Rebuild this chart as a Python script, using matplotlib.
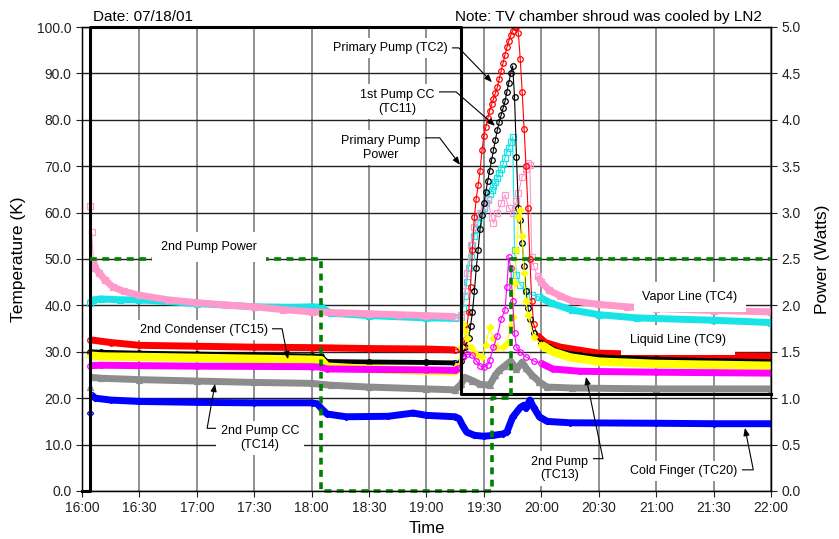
import matplotlib
matplotlib.use("Agg")
import matplotlib.pyplot as plt
import matplotlib.ticker as mticker
import numpy as np

plt.rcParams['font.family'] = ['Liberation Sans', 'DejaVu Sans']


def hm(s):
    # "HH:MM" -> decimal hours
    h, m = s.split(":")
    return int(h) + float(m) / 60.0


# ---- temperatures (K) ----
# Vapor Line (TC4)
t_tc4 = ["16:04", "16:05", "16:06", "16:07", "16:09", "16:12", "16:16", "16:22", "16:30", "16:45",
         "17:00", "17:15", "17:30", "17:45", "18:00", "18:15", "18:30", "18:45", "19:00", "19:15",
         "19:18", "19:20", "19:21", "19:23", "19:25", "19:28", "19:30", "19:32", "19:34", "19:35",
         "19:37", "19:39", "19:41", "19:43", "19:45", "19:47", "19:48", "19:50", "19:52", "19:53",
         "19:54", "19:55", "19:56", "19:58", "20:00", "20:04", "20:10", "20:16", "20:30", "20:45",
         "21:00", "21:30", "22:00"]
v_tc4 = [61.5, 55.8, 49.5, 48.0, 47.0, 45.5, 44.0, 43.0, 42.2, 41.2,
         40.6, 40.1, 39.7, 39.1, 38.6, 38.4, 38.2, 38.0, 37.8, 37.6,
         38.0, 43.0, 47.0, 53.0, 57.0, 60.0, 61.5, 62.7, 59.0, 57.7,
         60.0, 62.0, 63.8, 61.0, 60.0, 62.5, 64.2, 67.7, 69.5, 70.7,
         70.3, 50.4, 48.5, 46.3, 45.0, 43.3, 42.0, 41.0, 40.2, 39.7,
         39.3, 38.9, 38.6]

# Liquid Line (TC9)
t_tc9 = ["16:04", "16:06", "16:10", "16:20", "16:30", "17:00", "17:30", "17:50", "18:00", "18:05",
         "18:10", "18:30", "19:00", "19:15", "19:18", "19:19", "19:20", "19:21", "19:22", "19:23",
         "19:24", "19:25", "19:26", "19:27", "19:28", "19:29", "19:30", "19:31", "19:32", "19:33",
         "19:34", "19:35", "19:36", "19:37", "19:38", "19:39", "19:40", "19:41", "19:42", "19:43",
         "19:44", "19:45", "19:46", "19:47", "19:49", "19:52", "19:55", "19:59", "20:05", "20:16",
         "20:30", "20:50", "21:30", "22:00"]
v_tc9 = [40.5, 41.2, 41.4, 41.2, 41.2, 40.4, 39.7, 39.6, 39.7, 39.6,
         38.3, 37.8, 37.3, 37.2, 37.5, 39.5, 42.0, 45.0, 48.0, 50.5,
         53.0, 55.0, 56.5, 58.0, 59.0, 60.0, 61.0, 62.0, 63.0, 64.0,
         64.8, 65.7, 66.5, 67.5, 68.5, 69.5, 70.5, 71.8, 73.0, 74.0,
         75.2, 76.3, 52.0, 46.5, 44.5, 43.0, 42.3, 41.8, 40.5, 39.0,
         38.0, 37.3, 36.8, 36.3]

# Primary Pump (TC2)
t_tc2 = ["16:04", "16:15", "16:30", "17:00", "17:30", "18:00", "18:30", "19:00", "19:15", "19:18",
         "19:19", "19:20", "19:21", "19:22", "19:23", "19:24", "19:25", "19:26", "19:27", "19:28",
         "19:29", "19:30", "19:31", "19:32", "19:33", "19:34", "19:35", "19:36", "19:37", "19:38",
         "19:39", "19:40", "19:41", "19:42", "19:43", "19:44", "19:45", "19:46", "19:47", "19:48",
         "19:49", "19:50", "19:51", "19:52", "19:53", "19:54", "19:55", "19:56", "19:58", "20:02",
         "20:10", "20:30", "21:00", "21:30", "22:00"]
v_tc2 = [32.6, 32.0, 31.4, 31.2, 31.0, 30.9, 30.7, 30.6, 30.4, 30.6,
         31.0, 32.5, 35.0, 38.5, 44.0, 52.0, 59.0, 63.0, 66.0, 69.0,
         73.5, 76.5, 78.5, 80.3, 82.0, 83.3, 84.5, 85.8, 87.0, 88.8,
         90.5, 92.2, 94.0, 95.6, 97.0, 98.2, 99.2, 100.0, 100.0, 98.6,
         93.0, 86.0, 78.0, 70.0, 61.0, 50.0, 41.0, 36.0, 33.5, 32.0,
         31.0, 29.7, 29.4, 29.2, 29.0]

# 1st Pump CC (TC11)
t_tc11 = ["16:04", "16:10", "16:30", "17:00", "17:30", "18:00", "18:05", "18:08", "18:30", "19:00",
          "19:15", "19:18", "19:19", "19:20", "19:22", "19:23", "19:24", "19:25", "19:26", "19:27",
          "19:28", "19:29", "19:30", "19:31", "19:32", "19:33", "19:34", "19:35", "19:36", "19:37",
          "19:38", "19:39", "19:40", "19:41", "19:42", "19:43", "19:44", "19:45", "19:46", "19:47",
          "19:48", "19:49", "19:50", "19:51", "19:52", "19:53", "19:54", "19:56", "20:00", "20:04",
          "20:10", "20:20", "20:30", "21:00", "21:30", "22:00"]
v_tc11 = [30.0, 29.9, 29.7, 29.5, 29.3, 29.1, 29.0, 27.9, 27.8, 27.7,
          27.6, 28.0, 29.0, 31.0, 33.0, 35.5, 38.5, 43.0, 48.0, 52.0,
          56.5, 59.5, 62.0, 64.5, 66.8, 69.0, 71.3, 73.5, 75.7, 77.8,
          79.5, 81.0, 82.5, 84.0, 86.0, 88.0, 90.0, 91.6, 85.0, 72.0,
          61.0, 58.4, 53.4, 48.5, 43.0, 39.5, 37.0, 34.0, 32.0, 31.0,
          30.0, 29.3, 28.9, 28.4, 28.1, 27.9]

# 2nd Condenser (TC15)
t_tc15 = ["16:04", "16:10", "16:30", "17:00", "17:30", "18:00", "18:05", "18:08", "18:30", "19:00",
          "19:15", "19:17", "19:18", "19:19", "19:20", "19:21", "19:23", "19:25", "19:27", "19:29",
          "19:31", "19:33", "19:35", "19:37", "19:40", "19:42", "19:44", "19:45", "19:46", "19:47",
          "19:48", "19:49", "19:50", "19:51", "19:52", "19:53", "19:56", "20:00", "20:06", "20:15",
          "20:30", "21:00", "21:30", "22:00"]
v_tc15 = [29.2, 29.0, 28.9, 28.7, 28.5, 28.3, 28.2, 26.8, 26.3, 25.9,
          25.8, 27.0, 31.0, 36.0, 34.5, 33.0, 31.0, 30.0, 29.0, 28.9,
          31.5, 35.3, 33.0, 31.0, 31.0, 32.0, 35.5, 37.5, 44.8, 52.0,
          59.0, 60.6, 55.0, 47.0, 41.0, 38.0, 33.2, 31.5, 30.0, 28.8,
          27.9, 27.4, 27.2, 27.0]

# 2nd Pump (TC13)
t_tc13 = ["16:04", "16:10", "17:00", "18:00", "18:05", "18:08", "18:30", "19:00", "19:15", "19:17",
          "19:19", "19:21", "19:24", "19:26", "19:28", "19:30", "19:32", "19:33", "19:35", "19:37",
          "19:39", "19:41", "19:42", "19:43", "19:44", "19:45", "19:46", "19:47", "19:49", "19:52",
          "19:56", "20:00", "20:06", "20:20", "21:00", "22:00"]
v_tc13 = [27.0, 27.1, 26.9, 26.8, 26.7, 26.3, 26.2, 26.1, 26.0, 26.5,
          28.9, 29.5, 29.3, 28.0, 27.0, 26.7, 27.2, 28.2, 31.0, 33.5,
          37.0, 39.0, 44.0, 50.5, 48.0, 41.0, 34.0, 31.0, 30.0, 28.9,
          28.0, 27.5, 26.3, 25.8, 25.6, 25.4]

# 2nd Pump CC (TC14)
t_tc14 = ["16:04", "16:05", "16:10", "16:30", "17:00", "17:30", "18:00", "18:10", "18:30", "19:00",
          "19:15", "19:18", "19:20", "19:24", "19:28", "19:33", "19:36", "19:38", "19:41", "19:44",
          "19:47", "19:50", "19:52", "19:55", "19:59", "20:03", "20:16", "21:00", "22:00"]
v_tc14 = [22.4, 24.5, 24.3, 24.0, 23.7, 23.4, 23.2, 22.8, 22.4, 22.0,
          21.8, 23.0, 24.5, 23.8, 23.0, 22.8, 25.0, 26.0, 27.0, 28.0,
          26.2, 27.8, 26.5, 25.0, 23.5, 22.4, 22.2, 22.0, 22.0]

# Cold Finger (TC20)
t_tc20 = ["16:04", "16:05", "16:07", "16:15", "16:30", "17:00", "17:30", "18:00", "18:03", "18:05",
          "18:08", "18:18", "18:40", "18:53", "19:00", "19:15", "19:17", "19:19", "19:21", "19:25",
          "19:30", "19:35", "19:40", "19:42", "19:45", "19:49", "19:51", "19:52", "19:54", "19:56",
          "19:59", "20:03", "20:15", "21:00", "21:30", "22:00"]
v_tc20 = [16.8, 20.7, 20.0, 19.6, 19.3, 19.1, 19.0, 19.0, 18.8, 17.8,
          16.6, 16.0, 16.1, 16.8, 16.3, 16.0, 15.6, 14.0, 12.7, 12.0,
          11.8, 12.0, 12.3, 12.7, 15.9, 18.0, 18.5, 17.8, 19.6, 18.0,
          16.0, 15.0, 14.7, 14.6, 14.5, 14.5]

# ---- power (W) ----
t_pp1 = ["16:00", "16:04", "16:04", "19:18", "19:18", "22:00"]
p_pp1 = [0.0, 0.0, 5.0, 5.0, 1.05, 1.05]
t_pp2 = ["16:04", "18:05", "18:05", "19:34", "19:34", "19:44", "19:44", "22:00"]
p_pp2 = [2.5, 2.5, 0.0, 0.0, 1.0, 1.0, 2.5, 2.5]


def draw(ax, t, v, color, marker, filled, band, start="16:04", whole=False, ms=4):
    x = np.array([hm(s) for s in t])
    y = np.array(v)
    # dense logging looks like a thick band where the temperature is calm
    if whole:
        masks = [x >= hm(start)]
    else:
        masks = [(x >= hm(start)) & (x <= hm("19:17")), x >= hm("19:58")]
    for m in masks:
        ax.plot(x[m], y[m], color=color, lw=band, solid_capstyle='butt', zorder=2)
    ax.plot(x, y, color=color, lw=0.8, marker=marker, ms=ms,
            mfc=color if filled else 'none', mec=color, mew=0.9, zorder=2)


fig = plt.figure(figsize=(8.39, 5.39), dpi=100)
ax = fig.add_axes([82 / 839, 48 / 539, 689 / 839, 464 / 539])

draw(ax, t_tc9, v_tc9, '#18e4e8', 's', False, 5)
draw(ax, t_tc4, v_tc4, '#ff99cc', 's', False, 5, start="16:06")
draw(ax, t_tc2, v_tc2, '#ff0000', 'o', False, 5)
draw(ax, t_tc11, v_tc11, '#000000', 'o', False, 3.5)
draw(ax, t_tc15, v_tc15, '#ffff00', 'D', True, 6, ms=3.5)
draw(ax, t_tc13, v_tc13, '#ff00ff', 'o', False, 5)
draw(ax, t_tc14, v_tc14, '#8c8c8c', '^', False, 5, start="16:05", whole=True)
draw(ax, t_tc20, v_tc20, '#0000ff', 'D', False, 5, start="16:05", whole=True, ms=3.2)

ax.set_xlim(16, 22)
ax.set_ylim(0, 100)
ax.set_xticks(np.arange(16, 22.01, 0.5))
ax.xaxis.set_major_formatter(mticker.FuncFormatter(
    lambda v, p: "%d:%02d" % (int(v), int(round((v % 1) * 60)))))
ax.set_yticks(np.arange(0, 100.1, 10))
ax.yaxis.set_major_formatter(mticker.FormatStrFormatter('%.1f'))
ax.set_axisbelow(True)
ax.grid(axis='x', color='#888888', lw=1.3)
ax.grid(axis='y', color='#222222', lw=1.0)
ax.tick_params(labelsize=10, length=4, colors='#222222')
ax.set_xlabel("Time", fontsize=12)
ax.set_ylabel("Temperature (K)", fontsize=12.5, labelpad=8)
for s in ax.spines.values():
    s.set_linewidth(1.0)

# power on the right axis
ax2 = ax.twinx()
ax2.set_ylim(0, 5)
ax2.set_yticks(np.arange(0, 5.01, 0.5))
ax2.yaxis.set_major_formatter(mticker.FormatStrFormatter('%.1f'))
ax2.tick_params(labelsize=10, length=4, colors='#222222')
ax2.set_ylabel("Power (Watts)", fontsize=12.5, labelpad=10)
ax2.plot([hm(s) for s in t_pp1], p_pp1, color='black', lw=2.2, clip_on=False, zorder=2)
ax2.plot([hm(s) for s in t_pp2], p_pp2, color='#008000', lw=2.6, dashes=(1.9, 1.5),
         clip_on=False, zorder=2)

box = dict(boxstyle='square,pad=0.35', fc='white', ec='none')
arrow = dict(arrowstyle='-|>,head_length=0.5,head_width=0.2', color='black', lw=0.8,
             shrinkA=0, shrinkB=0)
tk = ax.transData


def note(text, xy_t, xy_k, txt_t, txt_k, angB, rel, angA=0, ha='center'):
    props = dict(arrow, relpos=rel,
                 connectionstyle="angle,angleA=%g,angleB=%g,rad=0" % (angA, angB))
    ax2.annotate(text, xy=(xy_t, xy_k), xytext=(txt_t, txt_k), xycoords=tk,
                 textcoords=tk, ha=ha, va='center', fontsize=9, bbox=box,
                 arrowprops=props, multialignment='center')


note("Primary Pump (TC2)", 19.570, 88.1, 19.187, 95.5, -46, (1, 0.5), ha='right')
note("1st Pump CC\n(TC11)", 19.597, 78.7, 18.743, 83.9, -41, (1, 0.88))
note("Primary Pump\nPower", 19.292, 70.3, 18.604, 74.0, -53, (1, 0.88))
note("2nd Condenser (TC15)", 17.794, 28.4, 17.062, 34.7, -79, (1, 0.6))
note("2nd Pump CC\n(TC14)", 17.158, 23.1, 17.550, 11.4, 80, (0, 0.88), angA=180)
note("2nd Pump\n(TC13)", 20.389, 24.6, 20.162, 4.85, 101.7, (1, 0.88))
note("Cold Finger (TC20)", 21.773, 13.6, 21.242, 4.3, 101.3, (1, 0.6))

for text, tt, kk in [("2nd Pump Power", 17.106, 52.6),
                     ("Liquid Line (TC9)", 21.19, 32.5),
                     ("Vapor Line (TC4)", 21.295, 41.8)]:
    ax2.text(tt, kk, text, transform=tk, ha='center', va='center', fontsize=9,
             bbox=dict(boxstyle='square,pad=0.7', fc='white', ec='none'))

fig.text(93 / 839, 1 - 17 / 539, "Date: 07/18/01", fontsize=11, ha='left', va='center')
fig.text(762 / 839, 1 - 17 / 539, "Note: TV chamber shroud was cooled by LN2",
         fontsize=11, ha='right', va='center')

fig.savefig("out.png", dpi=100)
